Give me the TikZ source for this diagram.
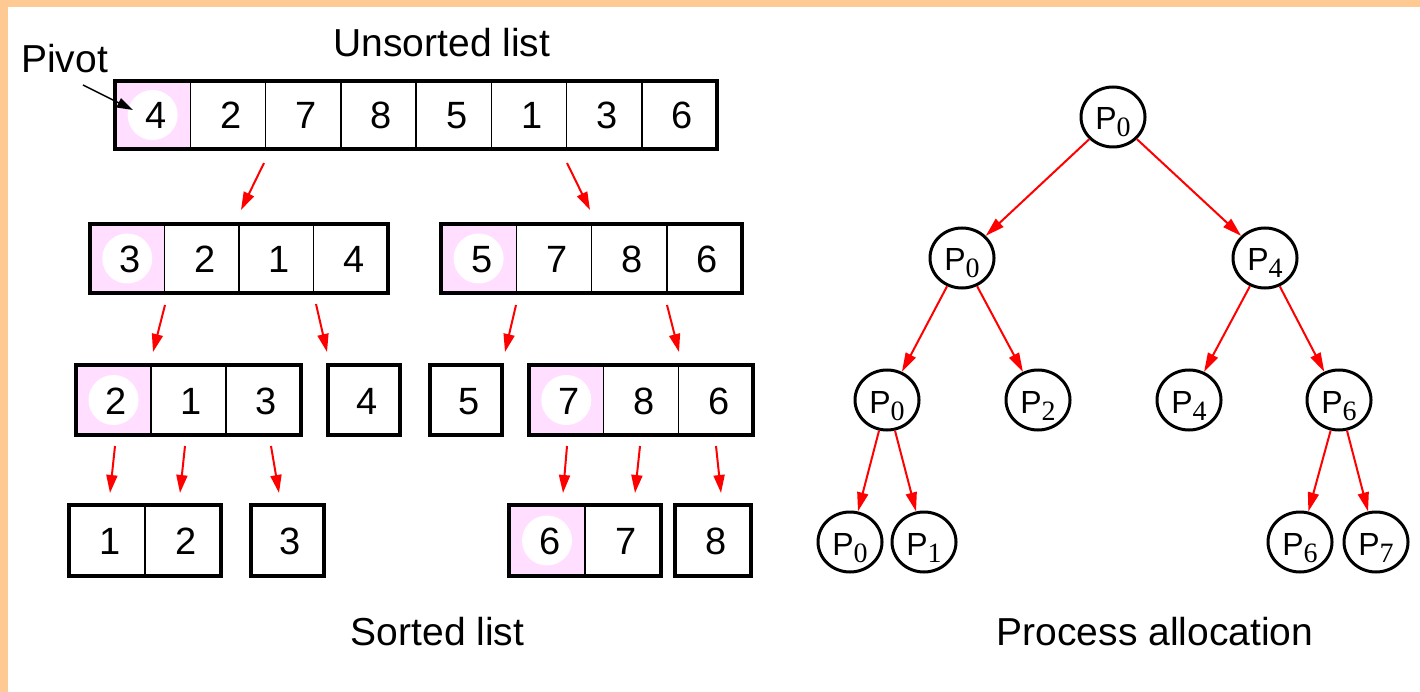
\documentclass[tikz,border=0pt]{standalone}
\usepackage{fontspec}
\setmainfont{Liberation Sans}
\newfontfamily\subfont{Liberation Serif}
\usetikzlibrary{arrows.meta,shapes.geometric}
\definecolor{framecol}{RGB}{255,201,147}
\definecolor{pivotpink}{RGB}{255,222,255}
\tikzset{
  redarr/.style={red, line width=2pt, -{Triangle[length=18pt,width=11pt]}},
  treearr/.style={red, line width=2pt, -{Triangle[length=19pt,width=11pt]}},
  pivarr/.style={black, line width=1.5pt, -{Triangle[length=16pt,width=10pt]}},
  proc/.style={ellipse, draw, line width=3pt, minimum width=64pt, minimum height=60pt, inner sep=0pt, text height=33pt, text depth=7pt},
  boxout/.style={draw, line width=4.5pt},
  divider/.style={line width=1.5pt},
  digit/.style={font=\fontsize{38}{40}\selectfont, anchor=base, inner sep=0pt},
  caption/.style={font=\fontsize{39}{42}\selectfont, anchor=base, inner sep=0pt},
}
\newcommand\proclabel[1]{{\fontsize{32}{32}\selectfont P}\raisebox{-7pt}{\subfont\fontsize{28}{28}\selectfont #1}}
% #1 name, #2 x1, #3 x2, #4 y1, #5 y2, #6 pivot flag, #7 count, #8 digits
\newcommand\listbox[8]{%
  \pgfmathsetmacro\lbw{(#3-#2)/#7}%
  \ifnum#6=1
    \fill[pivotpink] (#2,#4) rectangle ({#2+\lbw},#5);
    \fill[white] ({#2+\lbw/2},{(#4+#5)/2}) circle (25pt);
  \fi
  \foreach \d [count=\i] in {#8} {
    \node[digit] (#1-\i) at ({#2+(\i-0.5)*\lbw+3},{(#4+#5)/2+14}) {\d};
    \ifnum\i<#7 \draw[divider] ({#2+\i*\lbw},#4) -- ({#2+\i*\lbw},#5); \fi
  }
  \draw[boxout] (#2,#4) rectangle (#3,#5);
}
\begin{document}
\begin{tikzpicture}[x=1pt,y=-1pt]
\useasboundingbox (0,0) rectangle (1420,692);
\fill[white] (0,0) rectangle (1420,692);
\fill[framecol] (0,0) rectangle (1420,7);
\fill[framecol] (0,0) rectangle (8,692);

% captions
\node[caption] (unsorted) at (442,57) {Unsorted list};
\node[caption] (sorted) at (437.5,645) {Sorted list};
\node[caption] (procalloc) at (1155,645) {Process allocation};
\node[caption] (pivot) at (64.5,73) {Pivot};

% list boxes
\listbox{top}{115}{717}{81}{149}{1}{8}{4,2,7,8,5,1,3,6}
\listbox{la}{90}{388}{224}{293}{1}{4}{3,2,1,4}
\listbox{lb}{441}{742}{224}{293}{1}{4}{5,7,8,6}
\listbox{ma}{76}{301}{365}{435}{1}{3}{2,1,3}
\listbox{mb}{328}{400}{365}{435}{0}{1}{4}
\listbox{mc}{430}{502}{365}{435}{0}{1}{5}
\listbox{md}{529}{753}{365}{435}{1}{3}{7,8,6}
\listbox{sa}{69}{221}{505}{576}{0}{2}{1,2}
\listbox{sb}{251}{324}{505}{576}{0}{1}{3}
\listbox{sc}{509}{661}{505}{576}{1}{2}{6,7}
\listbox{sd}{675}{751}{505}{576}{0}{1}{8}

% pivot arrow
\coordinate (pvs) at (83,85);
\coordinate (pve) at (133,110);
\draw[pivarr] (pvs) -- (pve);

% list arrows
\coordinate (a1s) at (264,163); \coordinate (a1e) at (241,210);
\coordinate (a2s) at (567,163); \coordinate (a2e) at (590,210);
\coordinate (b1s) at (165,305); \coordinate (b1e) at (153,352);
\coordinate (b2s) at (316,304); \coordinate (b2e) at (327,352);
\coordinate (b3s) at (516,305); \coordinate (b3e) at (505,352);
\coordinate (b4s) at (667,305); \coordinate (b4e) at (679,352);
\coordinate (c1s) at (115,446); \coordinate (c1e) at (110,493);
\coordinate (c2s) at (185,446); \coordinate (c2e) at (180,493);
\coordinate (c3s) at (271,446); \coordinate (c3e) at (279,493);
\coordinate (c4s) at (567,446); \coordinate (c4e) at (563,493);
\coordinate (c5s) at (640,446); \coordinate (c5e) at (635,493);
\coordinate (c6s) at (716,446); \coordinate (c6e) at (721,493);
\foreach \p in {a1,a2,b1,b2,b3,b4,c1,c2,c3,c4,c5,c6}
  \draw[redarr] (\p s) -- (\p e);

% process tree
\node[proc] (r)   at (1113,117) {\proclabel{0}};
\node[proc] (l)   at (962,258)  {\proclabel{0}};
\node[proc] (rr)  at (1265,258) {\proclabel{4}};
\node[proc] (ll)  at (887,400)  {\proclabel{0}};
\node[proc] (lr)  at (1038,400) {\proclabel{2}};
\node[proc] (rl)  at (1189,400) {\proclabel{4}};
\node[proc] (rrr) at (1339,400) {\proclabel{6}};
\node[proc] (lll) at (850,542)  {\proclabel{0}};
\node[proc] (llr) at (924,542)  {\proclabel{1}};
\node[proc] (rrl) at (1300,542) {\proclabel{6}};
\node[proc] (r7)  at (1376,542) {\proclabel{7}};
\draw[treearr] (r) -- (l);
\draw[treearr] (r) -- (rr);
\draw[treearr] (l) -- (ll);
\draw[treearr] (l) -- (lr);
\draw[treearr] (rr) -- (rl);
\draw[treearr] (rr) -- (rrr);
\draw[treearr] (ll) -- (lll);
\draw[treearr] (ll) -- (llr);
\draw[treearr] (rrr) -- (rrl);
\draw[treearr] (rrr) -- (r7);
\end{tikzpicture}
\end{document}
